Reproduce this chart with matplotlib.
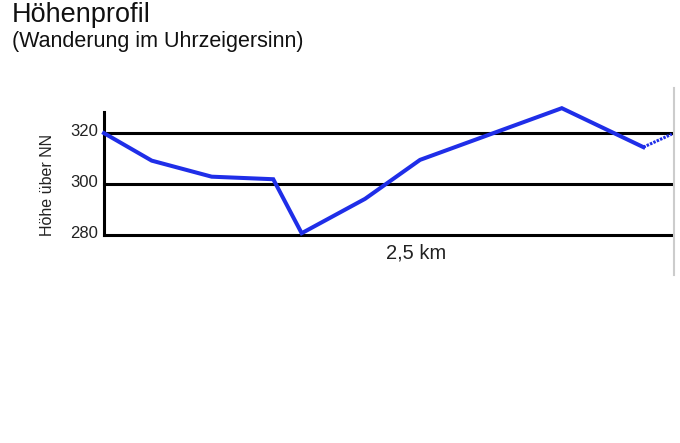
import matplotlib.pyplot as plt
import matplotlib.transforms as mtransforms
from matplotlib.lines import Line2D

plt.rcParams['font.family'] = ['Liberation Sans', 'DejaVu Sans']

# Streckenpunkte (km) und Hoehe ueber NN (m)
dist_km = [0.0, 0.210, 0.474, 0.745, 0.870, 1.149, 1.391, 2.015, 2.374]
hoehe = [320, 309.2, 302.9, 301.9, 280.7, 294.2, 309.5, 329.8, 314.5]
# letztes Stueck (gewellt gezeichnet)
dist_end = [2.374, 2.499]
hoehe_end = [314.5, 319.6]

yticks = [280, 300, 320]
ytick_labels = ["280", "300", "320"]

fig = plt.figure(figsize=(6.8, 4.43), dpi=100)
ax = fig.add_axes([104/680, 1-235/443, 568/680, 123/443])

for y in yticks:
    ax.axhline(y, color="black", lw=2.2, zorder=1, clip_on=False)

ax.plot(dist_km, hoehe, color="#1f2ee8", lw=2.9, solid_joinstyle="miter",
        clip_on=False, zorder=3)
ax.plot(dist_end, hoehe_end, color="#1f2ee8", lw=2.2, linestyle=(0, (0.8, 0.4)),
        clip_on=False, zorder=3)

ax.set_xlim(0, 2.5)
ax.set_ylim(280, 328.3)
ax.set_xticks([])
ax.set_yticks(yticks)
ax.set_yticklabels(ytick_labels, fontsize=12, color="#222222")
ax.tick_params(axis="y", length=0, pad=4)
shift = mtransforms.ScaledTranslation(0, 3/100, fig.dpi_scale_trans)
for lbl in ax.get_yticklabels():
    lbl.set_verticalalignment("center_baseline")
    lbl.set_transform(lbl.get_transform() + shift)
for s in ["top", "right", "bottom"]:
    ax.spines[s].set_visible(False)
ax.spines["left"].set_linewidth(2.2)
ax.spines["left"].set_color("black")

ax.set_ylabel("Höhe über NN", fontsize=11.5, color="#222222")
ax.yaxis.set_label_coords(-0.087, 0.407)

fig.text(416/680, 1-253/443, "2,5 km", fontsize=14.5, ha="center", va="center",
         color="#222222")
fig.text(12/680, 1-22.5/443, "Höhenprofil", fontsize=19.5, ha="left",
         va="baseline", color="#111111")
fig.text(12/680, 1-47/443, "(Wanderung im Uhrzeigersinn)", fontsize=15.5,
         ha="left", va="baseline", color="#111111")

fig.add_artist(Line2D([674/680, 674/680], [1-88/443, 1-275/443],
                      color="#cccccc", lw=1.5))

fig.savefig("out.png", dpi=100)
